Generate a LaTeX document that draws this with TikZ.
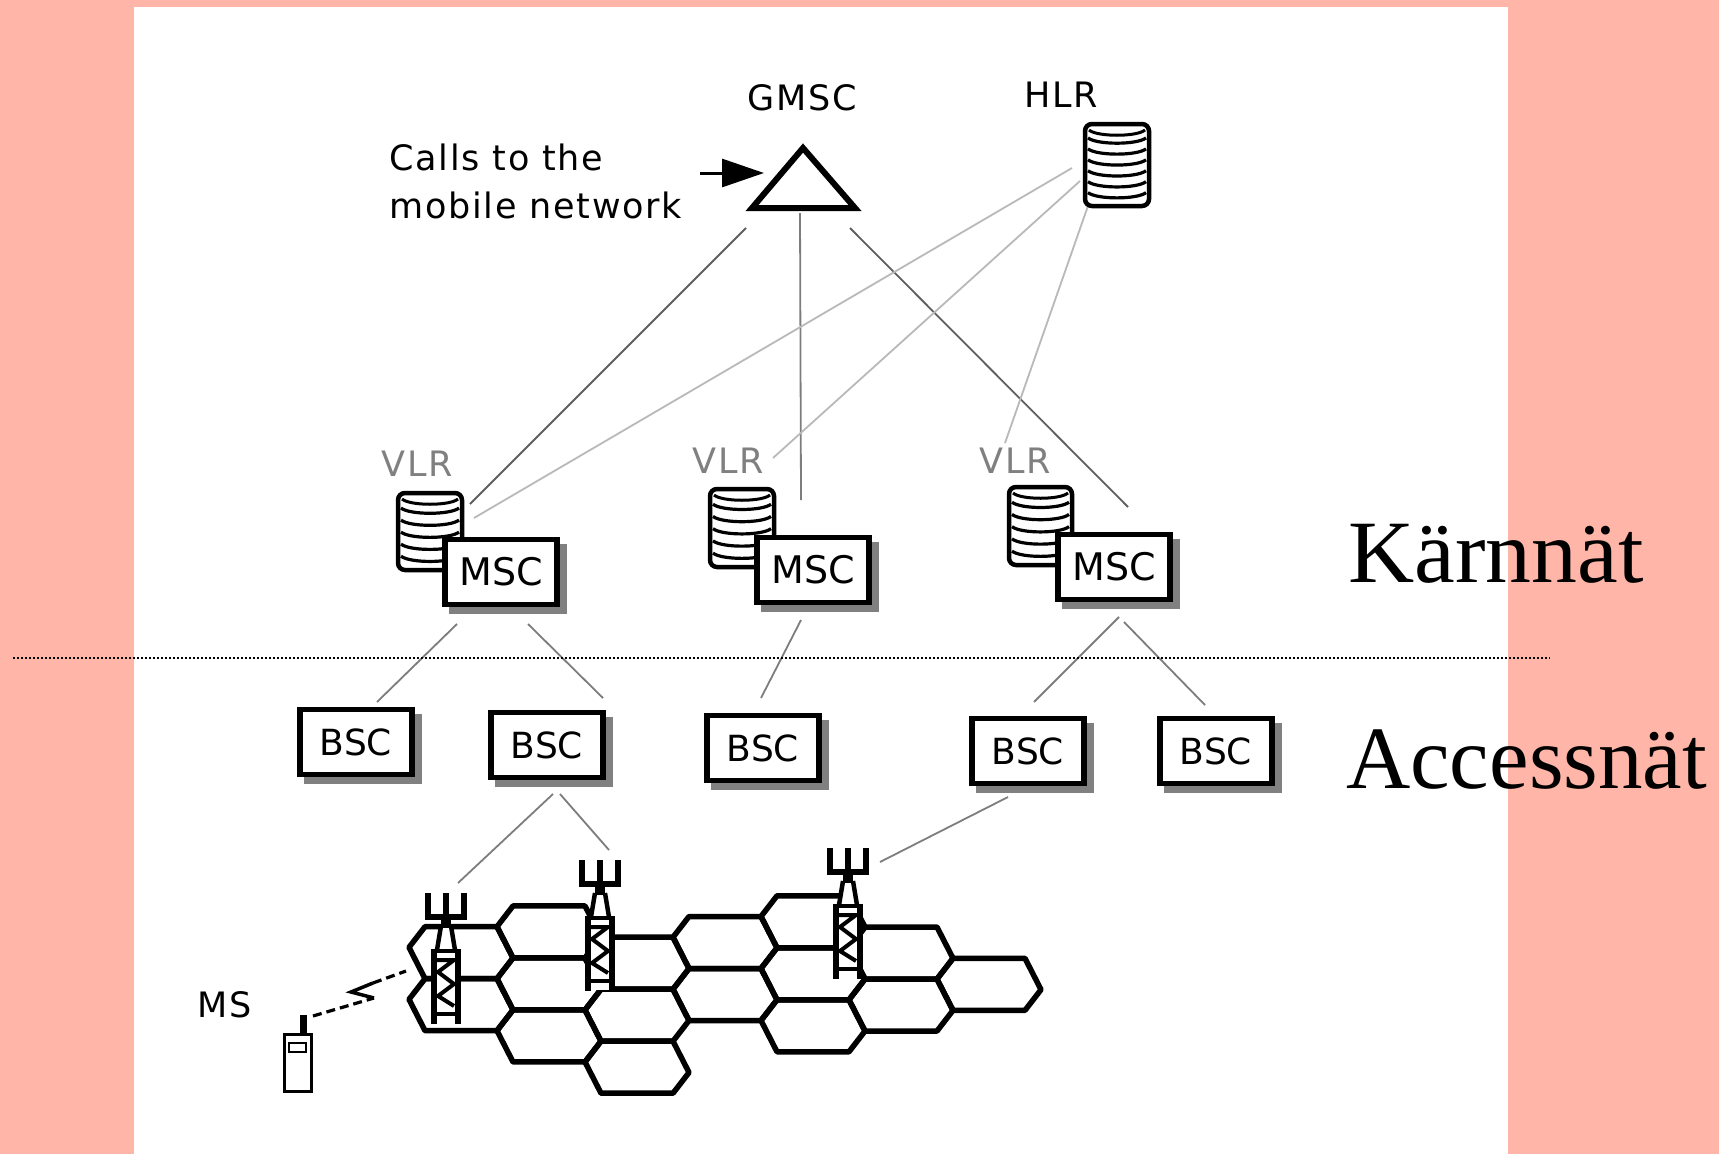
\documentclass[tikz,border=0pt]{standalone}
\usepackage{fontspec}
\setmainfont{DejaVu Sans}
\newfontfamily\labelfont[LetterSpace=5]{DejaVu Sans}
\newfontfamily\titlefont{Liberation Serif}
\usetikzlibrary{arrows.meta}

\definecolor{salmon}{RGB}{255,181,167}
\definecolor{shadowgray}{RGB}{128,128,128}
\definecolor{linkdark}{RGB}{95,95,95}
\definecolor{linkmid}{RGB}{125,125,125}
\definecolor{linklight}{RGB}{185,185,185}
\definecolor{vlrgray}{RGB}{128,128,128}

% database stack: left, top, width, height, number of plates
\newcommand\dbstack[5]{%
  \draw[line width=4.5, fill=white, rounded corners=7] (#1,#2) rectangle ++(#3,#4);
  \draw[line width=3] (#1+4,#2+6) .. controls (#1+12,#2+13) and (#1+#3-12,#2+13) .. (#1+#3-4,#2+6);
  \foreach \k in {1,...,#5}{
    \pgfmathsetmacro\yy{#2+6+\k*(#4-12)/(#5+0.4)}
    \draw[line width=3.2] (#1+3,\yy-3) .. controls (#1+12,\yy+4) and (#1+#3-12,\yy+4) .. (#1+#3-3,\yy-3);
  }%
}

% radio mast: centre x, top y
\newcommand\radiomast[2]{%
  \begin{scope}[shift={(#1,#2)}]
    \fill[white] (-12,56) rectangle (12,130);
    \fill[white] (-5,34) -- (-9,56) -- (9,56) -- (5,34) -- cycle;
    \draw[line width=4.5] (-5,33) -- (-9,57) (5,33) -- (9,57);
    \draw[line width=5.5] (-12,56) -- (-12,131) (12,56) -- (12,131);
    \draw[line width=4.5] (-12,58) -- (12,58) (-12,121) -- (12,121);
    \draw[line width=4, line join=miter] (-10,67) -- (8,67) -- (-8,79) -- (8,91) -- (-8,103) -- (8,113);
    \draw[line width=5.5] (-18,0) -- (-18,24) -- (18,24) -- (18,0) (0,0) -- (0,24);
    \fill (-5,24) rectangle (5,35);
  \end{scope}%
}

\begin{document}
\begin{tikzpicture}[x=1pt,y=-1pt,
  lbl/.style={font=\labelfont\fontsize{35}{48}\selectfont, inner sep=0pt},
  boxnode/.style={draw=black, line width=5.5, fill=white, inner sep=0pt,
    minimum width=112, minimum height=65,
    preaction={fill=shadowgray, draw=shadowgray, transform canvas={xshift=7pt, yshift=-7pt}}},
  mscbox/.style={boxnode, font=\fontsize{38}{40}\selectfont},
  bscbox/.style={boxnode, font=\fontsize{36}{40}\selectfont},
  corelink/.style={draw=linkdark, line width=1.8},
  vertlink/.style={draw=linkmid, line width=1.8},
  hlrlink/.style={draw=linklight, line width=1.8},
  acclink/.style={draw=linkmid, line width=1.8},
  hexline/.style={line width=5.5, line join=round},
  radiolink/.style={line width=3.2, dash pattern=on 9pt off 5pt},
  titletext/.style={font=\titlefont\fontsize{89}{100}\selectfont, inner sep=0pt, anchor=base west}
]
\useasboundingbox (0,0) rectangle (1719,1154);
\fill[salmon] (0,0) rectangle (1719,1154);
\fill[white] (134,7) rectangle (1508,1154);

% connector end points
\coordinate (gL) at (746,228);
\coordinate (gM) at (800,213);
\coordinate (gR) at (850,228);
\coordinate (m1top) at (470,504);
\coordinate (m2top) at (801,500);
\coordinate (m3top) at (1128,507);
\coordinate (h1) at (1072,168);
\coordinate (h2) at (1080,181);
\coordinate (h3) at (1089,203);
\coordinate (v1) at (474,518);
\coordinate (v2) at (773,458);
\coordinate (v3) at (1005,443);
\coordinate (m1a) at (457,624);
\coordinate (m1b) at (528,624);
\coordinate (m2a) at (801,620);
\coordinate (m3a) at (1119,617);
\coordinate (m3b) at (1124,622);
\coordinate (b1top) at (377,702);
\coordinate (b2top) at (603,698);
\coordinate (b3top) at (761,698);
\coordinate (b4top) at (1034,702);
\coordinate (b5top) at (1205,705);
\coordinate (b2a) at (553,794);
\coordinate (b2b) at (560,794);
\coordinate (b4a) at (1008,797);
\coordinate (t1top) at (458,883);
\coordinate (t2top) at (609,850);
\coordinate (t3top) at (880,862);

% core network links
\draw[corelink] (gL) -- (m1top);
\draw[vertlink] (gM) -- (m2top);
\draw[corelink] (gR) -- (m3top);
\draw[hlrlink] (h1) -- (v1);
\draw[hlrlink] (h2) -- (v2);
\draw[hlrlink] (h3) -- (v3);

% access network links
\draw[acclink] (m1a) -- (b1top);
\draw[acclink] (m1b) -- (b2top);
\draw[acclink] (m2a) -- (b3top);
\draw[acclink] (m3a) -- (b4top);
\draw[acclink] (m3b) -- (b5top);
\draw[acclink] (b2a) -- (t1top);
\draw[acclink] (b2b) -- (t2top);
\draw[acclink] (b4a) -- (t3top);

% boundary between core and access network
\draw[line width=1.5, dash pattern=on 2pt off 2pt] (13,658) -- (1550,658);

% cell pattern: flat-top hexagons, each column a little lower than the one before
\foreach \i/\jlist in {0/{0,1},1/{0,1,2},2/{0,1,2},3/{0,1},4/{-1,0,1},5/{0,1},6/{0}}{
  \foreach \j in \jlist {
    \pgfmathsetmacro\cx{461+88*\i}
    \pgfmathsetmacro\cy{873+0.06*\cx+26*(1-mod(\i,2))+52*\j+26}
    \pgfmathsetmacro\cyl{\cy-5.28}
    \pgfmathsetmacro\cyr{\cy+5.28}
    \draw[hexline] (\cx-52,\cyl) -- (\cx-36,\cy-26) -- (\cx+36,\cy-26) -- (\cx+52,\cyr)
      -- (\cx+36,\cy+26) -- (\cx-36,\cy+26) -- cycle;
  }
}

% base stations
\radiomast{446}{893}
\radiomast{600}{860}
\radiomast{848}{848}

% mobile station
\draw[line width=3, fill=white] (284,1034) rectangle (311,1091);
\fill (300,1015) rectangle (307,1034);
\draw[line width=2.5] (289,1043) rectangle (306,1052);
\coordinate (msant) at (313,1016);
\coordinate (zz1) at (374,998);
\coordinate (zz2) at (351,992);
\coordinate (zz3) at (373,983);
\coordinate (bts1) at (406,971);
\draw[radiolink] (msant) -- (zz1);
\draw[line width=3.5] (zz1) -- (zz2) -- (zz3);
\draw[radiolink] (zz3) -- (bts1);

% GMSC and incoming calls
\draw[line width=6, line join=miter, fill=white] (803,148) -- (855,208) -- (752,208) -- cycle;
\coordinate (callin) at (700,173);
\coordinate (gmscin) at (764,173);
\draw[line width=3, -{Triangle[length=42pt,width=28pt]}] (callin) -- (gmscin);

% registers
\dbstack{1085}{124}{64}{82}{6}
\dbstack{398}{493}{64}{77}{5}
\dbstack{710}{489}{64}{78}{5}
\dbstack{1009}{487}{63}{78}{5}

% switching centres
\node[mscbox] (msc1) at (501,572) {MSC};
\node[mscbox] (msc2) at (813,570) {MSC};
\node[mscbox] (msc3) at (1114,567) {MSC};

\node[bscbox] (bsc1) at (356,742) {BSC};
\node[bscbox] (bsc2) at (547,745) {BSC};
\node[bscbox] (bsc3) at (763,748) {BSC};
\node[bscbox] (bsc4) at (1028,751) {BSC};
\node[bscbox] (bsc5) at (1216,751) {BSC};

% labels
\node[lbl, anchor=base] (gmsclbl) at (802,110) {GMSC};
\node[lbl, anchor=base] (hlrlbl) at (1061,107) {HLR};
\node[lbl, anchor=west, align=left] (calls) at (389,181) {Calls to the\\mobile network};
\node[lbl, anchor=base, text=vlrgray] (vlr1) at (417,476) {VLR};
\node[lbl, anchor=base, text=vlrgray] (vlr2) at (728,473) {VLR};
\node[lbl, anchor=base, text=vlrgray] (vlr3) at (1015,473) {VLR};
\node[lbl, anchor=base] (mslbl) at (225,1017) {MS};

\node[titletext, xscale=1.03] (core) at (1348,582) {Kärnnät};
\node[titletext] (access) at (1346,788) {Accessnät};
\end{tikzpicture}
\end{document}
